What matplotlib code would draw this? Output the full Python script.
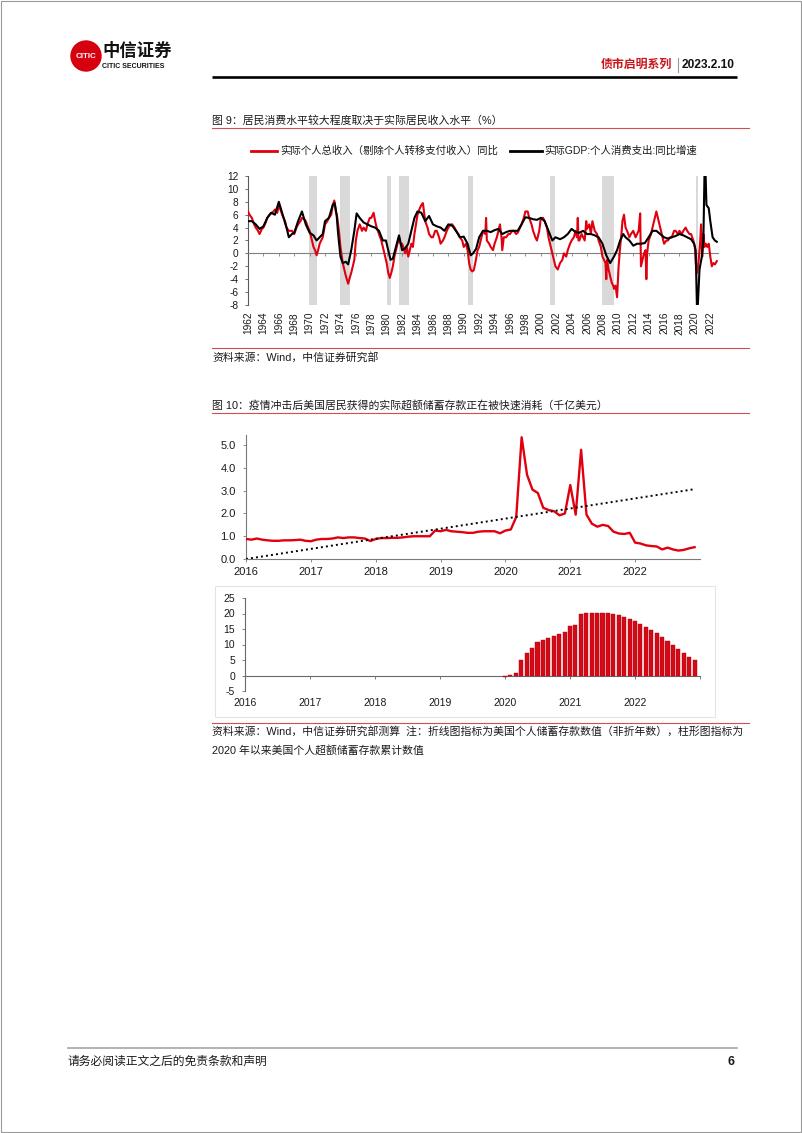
import matplotlib
matplotlib.use("Agg")

import numpy as np
import matplotlib.pyplot as plt
from matplotlib.patches import Circle, Rectangle
from matplotlib.ticker import FormatStrFormatter

plt.rcParams["font.family"] = ["Liberation Sans", "Noto Sans CJK SC"]
plt.rcParams["axes.unicode_minus"] = False

W, H = 802, 1133
RED = "#E0000F"
GRID_GRAY = "#808080"
TXT = "#1a1a1a"

# ---------------- 图9 data ----------------
RECESSIONS = [(1969.95, 1970.9), (1973.9, 1975.2), (1980.0, 1980.55), (1981.55, 1982.9),
              (1990.55, 1991.2), (2001.2, 2001.9), (2007.95, 2009.45), (2020.1, 2020.35)]

YEARS_1 = list(range(1962, 2023, 2))

# 实际个人总收入（剔除个人转移支付收入）同比
INC_T = [1962.0, 1962.2, 1962.5, 1962.8, 1963.0, 1963.3, 1963.5, 1963.8, 1964.0, 1964.3,
         1964.5, 1964.8, 1965.0, 1965.3, 1965.5, 1965.8, 1966.0, 1966.3, 1966.5, 1966.8,
         1967.0, 1967.3, 1967.7, 1968.0, 1968.3, 1968.5, 1968.8, 1969.0, 1969.3, 1969.5,
         1969.8, 1970.0, 1970.3, 1970.5, 1970.7, 1970.9, 1971.1, 1971.3, 1971.5, 1971.7,
         1972.0, 1972.3, 1972.5, 1972.8, 1973.0, 1973.2, 1973.4, 1973.6, 1973.8, 1974.0,
         1974.3, 1974.5, 1974.7, 1974.9, 1975.0, 1975.2, 1975.4, 1975.6, 1975.8, 1976.0,
         1976.2, 1976.5, 1976.8, 1977.0, 1977.3, 1977.5, 1977.8, 1978.0, 1978.3, 1978.5,
         1978.7, 1979.0, 1979.3, 1979.5, 1979.8, 1980.0, 1980.2, 1980.4, 1980.6, 1980.8,
         1981.0, 1981.2, 1981.4, 1981.6, 1981.8, 1982.0, 1982.2, 1982.4, 1982.6, 1982.8,
         1983.0, 1983.2, 1983.4, 1983.6, 1983.8, 1984.0, 1984.3, 1984.5, 1984.7, 1985.0,
         1985.3, 1985.5, 1985.8, 1986.0, 1986.3, 1986.5, 1986.8, 1987.0, 1987.3, 1987.5,
         1987.8, 1988.0, 1988.3, 1988.5, 1988.8, 1989.0, 1989.3, 1989.5, 1989.8, 1990.0,
         1990.3, 1990.5, 1990.7, 1990.9, 1991.1, 1991.3, 1991.5, 1991.8, 1992.0, 1992.3,
         1992.5, 1992.8, 1992.9, 1993.0, 1993.3, 1993.5, 1993.8, 1994.0, 1994.3, 1994.5,
         1994.7, 1994.9, 1995.0, 1995.2, 1995.5, 1995.8, 1996.0, 1996.3, 1996.5, 1996.8,
         1997.0, 1997.3, 1997.5, 1997.8, 1998.0, 1998.3, 1998.5, 1998.8, 1999.0, 1999.3,
         1999.5, 1999.8, 2000.0, 2000.3, 2000.5, 2000.8, 2001.0, 2001.3, 2001.5, 2001.7,
         2001.9, 2002.2, 2002.5, 2002.8, 2003.0, 2003.3, 2003.5, 2003.8, 2004.0, 2004.3,
         2004.5, 2004.7, 2004.8, 2004.9, 2005.0, 2005.3, 2005.5, 2005.7, 2005.9, 2006.0,
         2006.3, 2006.5, 2006.7, 2006.9, 2007.0, 2007.3, 2007.5, 2007.8, 2008.0, 2008.2,
         2008.4, 2008.5, 2008.6, 2008.8, 2009.0, 2009.2, 2009.4, 2009.5, 2009.7, 2009.9,
         2010.1, 2010.3, 2010.5, 2010.6, 2010.8, 2011.0, 2011.2, 2011.5, 2011.7, 2012.0,
         2012.3, 2012.5, 2012.7, 2012.9, 2013.0, 2013.2, 2013.4, 2013.6, 2013.7, 2013.8,
         2014.0, 2014.3, 2014.5, 2014.8, 2015.0, 2015.3, 2015.5, 2015.8, 2016.0, 2016.3,
         2016.5, 2016.8, 2017.0, 2017.3, 2017.5, 2017.8, 2018.0, 2018.3, 2018.5, 2018.8,
         2019.0, 2019.3, 2019.5, 2019.8, 2020.0, 2020.15, 2020.3, 2020.5, 2020.7, 2020.8,
         2020.95, 2021.1, 2021.25, 2021.4, 2021.6, 2021.8, 2022.0, 2022.2, 2022.4, 2022.6,
         2022.85]
INC_V = [6.5, 6.0, 5.5, 4.5, 4.0, 3.5, 3.0, 3.8, 4.0, 4.8,
         5.5, 6.0, 6.2, 6.5, 6.8, 6.3, 7.5, 6.5, 5.8, 5.0,
         4.0, 3.5, 3.5, 3.0, 4.0, 4.5, 5.0, 5.5, 5.3, 5.0,
         4.0, 3.5, 2.0, 1.0, 0.5, -0.3, 0.5, 1.5, 2.0, 2.5,
         4.5, 5.0, 5.5, 6.0, 7.5, 8.2, 6.5, 5.5, 3.5, 1.0,
         -1.5, -2.5, -3.5, -4.3, -4.7, -3.8, -3.0, -2.0, -1.0, 2.0,
         3.5, 4.5, 3.5, 4.0, 3.5, 4.5, 5.5, 5.5, 6.3, 5.0,
         4.0, 3.0, 2.0, 1.0, -0.5, -1.5, -3.0, -3.8, -3.0, -2.0,
         -0.5, 0.5, 1.5, 2.5, 1.5, 1.5, 0.8, 0.0, 1.0, -0.5,
         0.5, 1.5, 1.0, 3.0, 4.5, 6.0, 7.0, 7.5, 7.8, 5.0,
         4.0, 3.0, 2.5, 2.5, 3.5, 3.5, 2.5, 1.5, 2.0, 2.5,
         3.5, 4.0, 4.5, 4.5, 4.0, 3.5, 3.0, 2.5, 2.0, 1.0,
         1.5, 0.5, -1.5, -2.5, -2.8, -2.6, -1.5, 0.5, 1.0, 2.5,
         3.5, 3.0, 5.5, 2.0, 1.5, 1.0, 0.5, 1.5, 2.5, 3.5,
         4.5, 2.5, 0.5, 2.5, 2.5, 3.0, 3.0, 3.5, 3.5, 3.0,
         3.2, 4.0, 4.5, 5.5, 6.5, 6.5, 5.5, 4.5, 3.5, 2.5,
         2.0, 3.5, 5.5, 5.5, 5.0, 4.0, 2.5, 1.0, 0.0, -1.0,
         -2.0, -2.5, -1.5, -1.0, 0.0, -0.5, 0.5, 1.5, 2.0, 2.5,
         3.5, 2.5, 5.5, 2.0, 2.0, 3.0, 2.5, 2.0, 5.0, 3.8,
         4.5, 3.0, 5.0, 4.0, 3.5, 3.0, 2.0, 1.0, -0.5, -1.0,
         -1.5, -4.0, -1.0, -2.5, -3.5, -4.5, -5.0, -5.5, -5.0, -6.8,
         -2.0, 1.0, 3.5, 5.0, 6.0, 4.0, 3.5, 2.5, 3.0, 3.5,
         2.5, 3.0, 3.5, 6.2, -2.0, -1.0, 0.0, 0.5, -4.0, 0.0,
         2.0, 3.0, 4.0, 5.5, 6.5, 5.0, 4.0, 2.5, 1.5, 2.0,
         2.0, 2.5, 2.5, 3.5, 3.5, 3.0, 3.5, 3.0, 3.5, 4.0,
         3.5, 3.0, 3.0, 2.0, 1.0, -2.0, -3.0, -1.0, 2.0, 4.5,
         -0.5, 3.0, 1.0, 1.5, 1.0, 1.5, -0.5, -2.0, -1.5, -1.7,
         -1.2]

# 实际GDP:个人消费支出:同比增速
PCE_T = [1962.0, 1962.5, 1963.0, 1963.5, 1964.0, 1964.5, 1965.0, 1965.5, 1966.0, 1966.5,
         1967.0, 1967.3, 1967.7, 1968.0, 1968.5, 1969.0, 1969.5, 1970.0, 1970.5, 1970.9,
         1971.3, 1971.7, 1972.0, 1972.5, 1973.0, 1973.25, 1973.5, 1973.7, 1974.0, 1974.3,
         1974.7, 1975.0, 1975.4, 1975.8, 1976.1, 1976.5, 1977.0, 1977.5, 1978.0, 1978.5,
         1979.0, 1979.5, 1979.9, 1980.2, 1980.5, 1980.8, 1981.2, 1981.6, 1982.0, 1982.4,
         1982.8, 1983.2, 1983.6, 1984.0, 1984.5, 1985.0, 1985.5, 1986.0, 1986.5, 1987.0,
         1987.5, 1988.0, 1988.5, 1989.0, 1989.5, 1990.0, 1990.5, 1990.9, 1991.2, 1991.6,
         1992.0, 1992.5, 1993.0, 1993.5, 1994.0, 1994.5, 1995.0, 1995.5, 1996.0, 1996.5,
         1997.0, 1997.5, 1998.0, 1998.5, 1999.0, 1999.5, 2000.0, 2000.5, 2001.0, 2001.5,
         2001.9, 2002.5, 2003.0, 2003.5, 2004.0, 2004.5, 2005.0, 2005.5, 2006.0, 2006.5,
         2007.0, 2007.5, 2008.0, 2008.5, 2009.0, 2009.5, 2009.9, 2010.3, 2010.7, 2011.0,
         2011.5, 2012.0, 2012.5, 2013.0, 2013.5, 2014.0, 2014.5, 2015.0, 2015.5, 2016.0,
         2016.5, 2017.0, 2017.5, 2018.0, 2018.5, 2019.0, 2019.5, 2019.9, 2020.1, 2020.3,
         2020.6, 2020.9, 2021.1, 2021.3, 2021.5, 2021.8, 2022.0, 2022.3, 2022.6, 2022.85]
PCE_V = [5.0, 5.0, 4.5, 3.8, 4.2, 5.5, 6.3, 6.0, 8.0, 6.0,
         4.0, 2.5, 3.0, 3.2, 5.0, 6.5, 4.5, 3.2, 2.8, 2.0,
         2.5, 3.0, 5.0, 5.5, 7.5, 7.8, 6.0, 3.0, -0.5, -1.5,
         -1.3, -1.7, 0.5, 3.5, 6.2, 5.5, 4.8, 4.5, 4.2, 4.0,
         3.5, 2.0, 2.0, 0.5, -1.0, -0.8, 1.0, 2.8, 0.5, 0.8,
         1.5, 3.5, 5.5, 6.5, 6.3, 5.0, 5.8, 4.5, 4.2, 4.0,
         3.5, 4.5, 4.3, 3.5, 2.5, 2.6, 1.5, -0.3, 0.0, 0.7,
         2.5, 3.5, 3.5, 3.3, 3.6, 3.8, 3.0, 3.3, 3.5, 3.5,
         3.5, 4.5, 5.6, 5.5, 5.3, 5.2, 5.5, 5.0, 3.5, 2.0,
         2.5, 2.2, 2.5, 3.0, 3.8, 3.3, 3.2, 3.5, 3.0, 3.0,
         2.8, 2.5, 1.5, -0.3, -1.5, -0.5, 0.5, 2.0, 3.0, 2.5,
         2.0, 1.2, 1.5, 1.5, 1.6, 2.5, 3.5, 3.5, 3.0, 2.5,
         2.3, 2.5, 2.7, 3.0, 2.8, 2.5, 2.2, 1.5, 0.5, -10.0,
         -2.5, -0.5, 2.0, 16.0, 7.5, 7.0, 5.0, 2.5, 2.0, 1.8]

# ---------------- 图10 data ----------------
YEARS_2 = list(range(2016, 2023))
# 美国个人储蓄存款（千亿美元），2016-01 至 2022-12 月度
SAVINGS = [0.88, 0.85, 0.90, 0.85, 0.82, 0.80, 0.80, 0.82, 0.82, 0.83, 0.85, 0.80,
           0.78, 0.85, 0.88, 0.88, 0.90, 0.95, 0.92, 0.95, 0.95, 0.92, 0.90, 0.79,
           0.88, 0.92, 0.92, 0.93, 0.93, 0.95, 0.98, 1.00, 1.00, 1.00, 1.00, 1.25,
           1.22, 1.28, 1.22, 1.20, 1.18, 1.15, 1.15, 1.20, 1.22, 1.22, 1.22, 1.13,
           1.25, 1.30, 1.85, 5.35, 3.70, 3.05, 2.90, 2.25, 2.15, 2.10, 1.92, 2.00,
           3.25, 1.95, 4.80, 1.95, 1.55, 1.42, 1.50, 1.45, 1.20, 1.12, 1.10, 1.15,
           0.72, 0.68, 0.60, 0.57, 0.55, 0.42, 0.50, 0.42, 0.37, 0.40, 0.47, 0.52]
TREND = [0.0, 3.07]
# 2020 年以来美国个人超额储蓄存款累计数值，2020-01 至 2022-12
EXCESS = [-0.4, 0.3, 0.8, 5.0, 7.3, 8.9, 10.7, 11.5, 12.2, 12.9, 13.3, 13.9,
          15.9, 16.3, 19.8, 20.2, 20.3, 20.2, 20.3, 20.2, 20.0, 19.5, 18.8, 18.3,
          17.5, 16.7, 15.8, 14.7, 13.6, 12.4, 11.1, 10.0, 8.5, 7.3, 6.0, 5.0]


def add_axes_px(fig, left, top, right, bottom):
    return fig.add_axes([left / W, 1 - bottom / H, (right - left) / W, (bottom - top) / H])


def draw_page(fig):
    bg = fig.add_axes([0, 0, 1, 1])
    bg.set_xlim(0, W)
    bg.set_ylim(H, 0)
    bg.axis("off")

    bg.add_patch(Rectangle((0.5, 0.5), W - 1.5, H - 1.5, fill=False, ec="#9a9a9a", lw=0.8))

    # logo
    bg.add_patch(Circle((86, 56), 15, color="#D7000F"))
    bg.text(86, 56.5, "CITIC", color="white", fontsize=5.8, fontweight="bold",
            ha="center", va="center")
    bg.text(102, 51, "中信证券", fontsize=12.5, fontweight="bold", color="#111111",
            ha="left", va="center", family=["Noto Sans CJK SC"])
    bg.text(102, 66, "CITIC SECURITIES", fontsize=5.0, fontweight="bold", color="#111111",
            ha="left", va="center")

    # header right
    bg.text(672, 65, "债市启明系列", fontsize=8.6, fontweight="bold", color="#C8161D",
            ha="right", va="center")
    bg.plot([677.5, 677.5], [58, 72], color="#999999", lw=0.8)
    bg.text(735, 65, "2023.2.10", fontsize=8.6, fontweight="bold", color="#111111",
            ha="right", va="center")
    bg.plot([212, 737], [77, 77], color="black", lw=1.9, solid_capstyle="butt")

    # figure 9 title / source
    bg.text(212, 121, "图 9：居民消费水平较大程度取决于实际居民收入水平（%）", fontsize=7.8,
            color=TXT, ha="left", va="center")
    bg.plot([212, 749], [128, 128], color="#D05050", lw=0.8)

    bg.plot([251, 277], [151, 151], color=RED, lw=2.0)
    bg.text(280, 151, "实际个人总收入（剔除个人转移支付收入）同比", fontsize=7.5,
            color=TXT, ha="left", va="center")
    bg.plot([510, 542], [151, 151], color="black", lw=2.0)
    bg.text(544, 151, "实际GDP:个人消费支出:同比增速", fontsize=7.5,
            color=TXT, ha="left", va="center")

    bg.plot([212, 749], [348, 348], color="#D05050", lw=0.8)
    bg.text(212, 357, "资料来源：Wind，中信证券研究部", fontsize=7.8, color=TXT,
            ha="left", va="center")

    # figure 10 title / source
    bg.text(212, 405, "图 10：疫情冲击后美国居民获得的实际超额储蓄存款正在被快速消耗（千亿美元）",
            fontsize=7.8, color=TXT, ha="left", va="center")
    bg.plot([212, 749], [413, 413], color="#D05050", lw=0.8)

    bg.add_patch(Rectangle((215, 586), 500, 131, fill=False, ec="#e4e4e4", lw=0.8))

    bg.plot([212, 749], [723, 723], color="#D05050", lw=0.8)
    bg.text(212, 731, "资料来源：Wind，中信证券研究部测算  注：折线图指标为美国个人储蓄存款数值"
            "（非折年数），柱形图指标为", fontsize=7.8, color=TXT, ha="left", va="center")
    bg.text(212, 750, "2020 年以来美国个人超额储蓄存款累计数值", fontsize=7.8, color=TXT,
            ha="left", va="center")

    # footer
    bg.plot([68, 737], [1048, 1048], color="#a6a6a6", lw=1.2)
    bg.text(68, 1062, "请务必阅读正文之后的免责条款和声明", fontsize=8.5, color=TXT,
            ha="left", va="center")
    bg.text(735, 1062, "6", fontsize=9, fontweight="bold", color=TXT, ha="right", va="center")


def draw_income_chart(fig):
    ax = add_axes_px(fig, 248, 176, 718, 305)
    ax.set_facecolor("none")
    for a, b in RECESSIONS:
        ax.axvspan(a, b, color="#d9d9d9", lw=0, zorder=0)
    ax.plot(INC_T, INC_V, color=RED, lw=1.5, zorder=3)
    ax.plot(PCE_T, PCE_V, color="black", lw=1.5, zorder=4)

    ax.set_xlim(1962, 2023.0)
    ax.set_ylim(-8, 12)
    ax.set_yticks(range(-8, 13, 2))
    ax.set_xticks(YEARS_1)
    for s in ("top", "right"):
        ax.spines[s].set_visible(False)
    ax.spines["bottom"].set_position(("data", 0))
    ax.spines["bottom"].set_color(GRID_GRAY)
    ax.spines["bottom"].set_linewidth(0.8)
    ax.spines["left"].set_color("#595959")
    ax.spines["left"].set_linewidth(0.8)
    ax.tick_params(axis="x", direction="out", length=2.5, width=0.6, color=GRID_GRAY,
                   labelbottom=False)
    ax.tick_params(axis="y", direction="out", length=2.5, width=0.6, color="#595959",
                   labelsize=7.3, labelcolor=TXT, pad=4.5)
    for yr in YEARS_1:
        ax.text(yr, -0.054, str(yr), transform=ax.get_xaxis_transform(), rotation=90,
                ha="center", va="top", fontsize=7.3, color=TXT)


def draw_savings_chart(fig):
    ax = add_axes_px(fig, 246, 435, 700, 559)
    ax.set_facecolor("none")
    t = 2016 + np.arange(len(SAVINGS)) / 12
    ax.plot(t, SAVINGS, color=RED, lw=1.7, zorder=3)
    ax.plot([t[0], t[-1]], TREND, color="black", lw=1.4, linestyle=(0, (1, 1.6)), zorder=4)

    ax.set_xlim(2016, 2023)
    ax.set_ylim(0, 5.45)
    ax.set_yticks(np.arange(0, 5.1, 1.0))
    ax.yaxis.set_major_formatter(FormatStrFormatter("%.1f"))
    ax.set_xticks(YEARS_2)
    ax.set_xticklabels([str(y) for y in YEARS_2])
    for s in ("top", "right"):
        ax.spines[s].set_visible(False)
    for s in ("left", "bottom"):
        ax.spines[s].set_color("#7a7a7a")
        ax.spines[s].set_linewidth(0.8)
    ax.tick_params(axis="both", direction="out", length=2.5, width=0.6, color="#7a7a7a",
                   labelsize=8, labelcolor=TXT)
    ax.tick_params(axis="y", pad=5)
    ax.tick_params(axis="x", pad=3)


def draw_excess_chart(fig):
    ax = add_axes_px(fig, 245, 598, 700, 691)
    ax.set_facecolor("none")
    t = 2020 + np.arange(len(EXCESS)) / 12
    ax.bar(t, EXCESS, width=0.74 / 12, color="#D40A16", edgecolor="#B00010", lw=0.3, zorder=3)

    ax.set_xlim(2016, 2023)
    ax.set_ylim(-5, 25)
    ax.set_yticks(range(-5, 26, 5))
    ax.set_xticks(range(2016, 2024))
    for s in ("top", "right"):
        ax.spines[s].set_visible(False)
    ax.spines["bottom"].set_position(("data", 0))
    ax.spines["bottom"].set_color("#6a6a6a")
    ax.spines["bottom"].set_linewidth(0.8)
    ax.spines["left"].set_color("#6a6a6a")
    ax.spines["left"].set_linewidth(0.8)
    ax.tick_params(axis="x", direction="out", length=2.5, width=0.6, color="#6a6a6a",
                   labelbottom=False)
    ax.tick_params(axis="y", direction="out", length=2.5, width=0.6, color="#6a6a6a",
                   labelsize=7.5, labelcolor=TXT, pad=4.5)
    for yr in YEARS_2:
        ax.text(yr, -0.129, str(yr), transform=ax.get_xaxis_transform(),
                ha="center", va="center", fontsize=7.5, color=TXT)


def main():
    fig = plt.figure(figsize=(W / 100, H / 100), dpi=100)
    fig.patch.set_facecolor("white")
    draw_page(fig)
    draw_income_chart(fig)
    draw_savings_chart(fig)
    draw_excess_chart(fig)
    fig.savefig("out.png", dpi=100)
    plt.close("all")


if __name__ == "__main__":
    main()
